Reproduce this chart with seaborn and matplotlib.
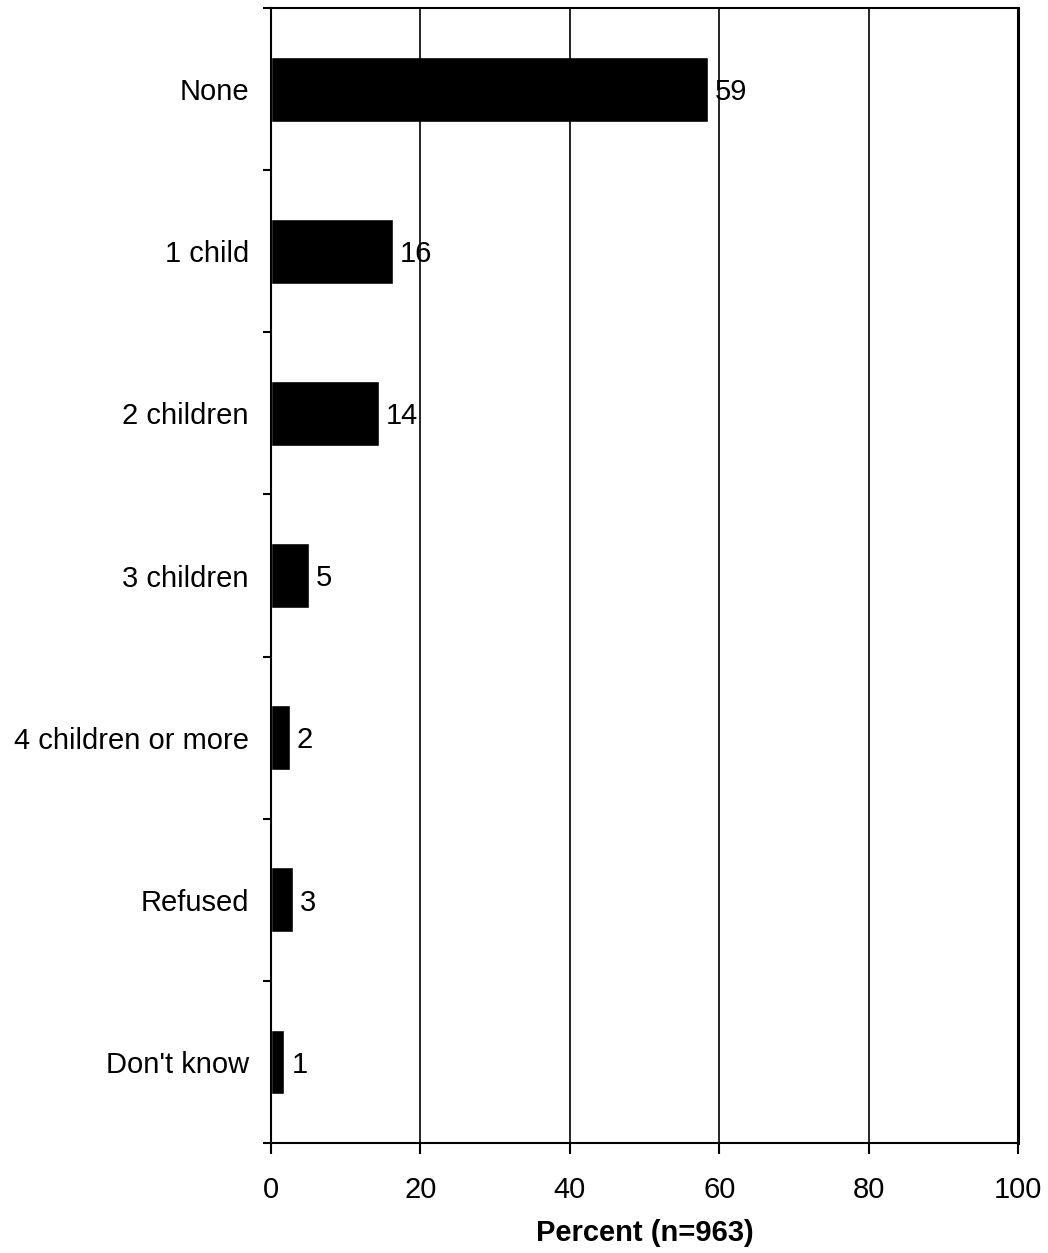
import matplotlib
matplotlib.use("Agg")
import matplotlib.pyplot as plt
import seaborn as sns
import pandas as pd
import numpy as np

categories = ["None", "1 child", "2 children", "3 children",
              "4 children or more", "Refused", "Don't know"]
values = [58.5, 16.3, 14.4, 5.1, 2.5, 2.9, 1.8]
labels = ["59", "16", "14", "5", "2", "3", "1"]
xticks = [0, 20, 40, 60, 80, 100]

sns.set_theme(style="white")
plt.rcParams["font.family"] = ["Liberation Sans", "DejaVu Sans"]
plt.rcParams["text.color"] = "black"
plt.rcParams["xtick.color"] = "black"
plt.rcParams["ytick.color"] = "black"
plt.rcParams["axes.labelcolor"] = "black"

df = pd.DataFrame({"category": categories, "value": values})

fig = plt.figure(figsize=(10.48, 12.53), dpi=100)
ax = fig.add_axes([271/1048, 1 - 1143/1253, (1018 - 271)/1048, (1143 - 8)/1253])

sns.barplot(data=df, x="value", y="category", orient="h", color="black",
            width=0.4, saturation=1, ax=ax, zorder=1)

for i, (v, lab) in enumerate(zip(values, labels)):
    ax.annotate(lab, xy=(v, i), xytext=(5, -2), textcoords="offset points",
                ha="left", va="center", fontsize=21, color="black", zorder=0.5)

ax.set_xlim(0, 100)
ax.set_ylim(len(categories) - 0.5, -0.5)
ax.set_xticks(xticks)
ax.set_xticklabels([str(t) for t in xticks], fontsize=21, color="black")
ax.set_yticks(range(len(categories)))
ax.set_yticklabels(categories, fontsize=21, color="black")
ax.set_yticks(np.arange(-0.5, len(categories)), minor=True)

ax.tick_params(axis="y", which="major", length=0, pad=16, labelcolor="black")
ax.tick_params(axis="y", which="minor", left=True, length=6, width=1.5,
               color="black", direction="out")
ax.tick_params(axis="x", which="major", bottom=True, length=8, width=1.5,
               color="black", direction="out", pad=16, labelcolor="black")

ax.xaxis.grid(True, color="black", linewidth=1.2, zorder=2)
ax.set_axisbelow(False)
for side in ["left", "bottom", "top"]:
    ax.spines[side].set_visible(True)
    ax.spines[side].set_color("black")
    ax.spines[side].set_linewidth(1.5)
ax.spines["right"].set_visible(True)
ax.spines["right"].set_color("black")
ax.spines["right"].set_linewidth(2.2)

ax.set_ylabel("")
ax.set_xlabel("Percent (n=963)", fontsize=21, fontweight="bold", labelpad=10.5,
              color="black")

fig.savefig("out.png", dpi=100, facecolor="white")
